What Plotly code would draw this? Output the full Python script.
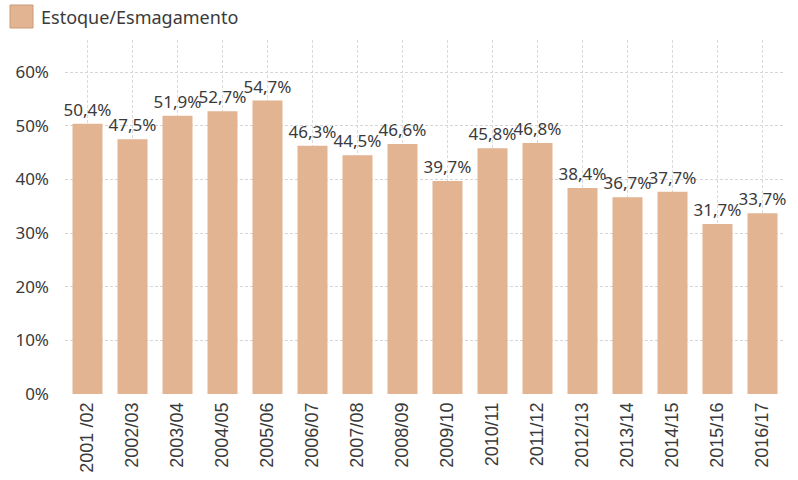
import plotly.graph_objects as go

categories = ["2001 /02", "2002/03", "2003/04", "2004/05", "2005/06", "2006/07", "2007/08", "2008/09",
              "2009/10", "2010/11", "2011/12", "2012/13", "2013/14", "2014/15", "2015/16", "2016/17"]
values = [50.4, 47.5, 51.9, 52.7, 54.7, 46.3, 44.5, 46.6, 39.7, 45.8, 46.8, 38.4, 36.7, 37.7, 31.7, 33.7]
series_name = "Estoque/Esmagamento"
y_ticks = [0, 10, 20, 30, 40, 50, 60]
y_tick_text = [f"{v}%" for v in y_ticks]

bar_color = "#E3B491"
text_color = "#3a3a3a"
font_family = "Noto Sans, Open Sans, sans-serif"

L, R, T, B = 65, 13, 40, 86
W, H = 798, 480
pw, ph = W - L - R, H - T - B

fig = go.Figure()
fig.add_trace(go.Bar(
    x=categories, y=values, name=series_name,
    marker=dict(color=bar_color, line=dict(width=0)),
    texttemplate="%{y:.1f}%", textposition="outside", constraintext="none",
    textfont=dict(size=17, color=text_color, family=font_family),
    cliponaxis=False, showlegend=False,
))

fig.update_layout(
    width=W, height=H,
    margin=dict(l=L, r=R, t=T, b=B),
    plot_bgcolor="white", paper_bgcolor="white",
    separators=",.",
    bargap=0.333,
    font=dict(family=font_family, color=text_color, size=16),
    xaxis=dict(
        tickangle=-90, tickfont=dict(size=18, color=text_color, family="Liberation Sans, Arial, sans-serif"),
        ticklabelstandoff=4,
        showgrid=True, gridcolor="#dadada", griddash="3px,2px", gridwidth=1,
        showline=False, ticks="", automargin=False,
    ),
    yaxis=dict(
        range=[0, 66], tickmode="array", tickvals=y_ticks, ticktext=y_tick_text,
        tickfont=dict(size=17, color=text_color),
        ticklabelstandoff=15,
        showgrid=True, gridcolor="#d6d6d6", griddash="3px,2px", gridwidth=1,
        zeroline=False, showline=False, ticks="", automargin=False,
    ),
    shapes=[dict(type="rect", xref="paper", yref="paper",
                 x0=(10 - L) / pw, x1=(33 - L) / pw,
                 y0=1 + (T - 28) / ph, y1=1 + (T - 5) / ph,
                 fillcolor=bar_color, line=dict(color="#c89a78", width=1))],
    annotations=[dict(text=series_name, xref="paper", yref="paper",
                      x=(39 - L) / pw, y=1 + (T - 17) / ph, xanchor="left", yanchor="middle",
                      showarrow=False, font=dict(size=18, color=text_color))],
)

fig.write_html("out.html", config={"displayModeBar": False},
               post_script="document.body.style.margin='0';")
